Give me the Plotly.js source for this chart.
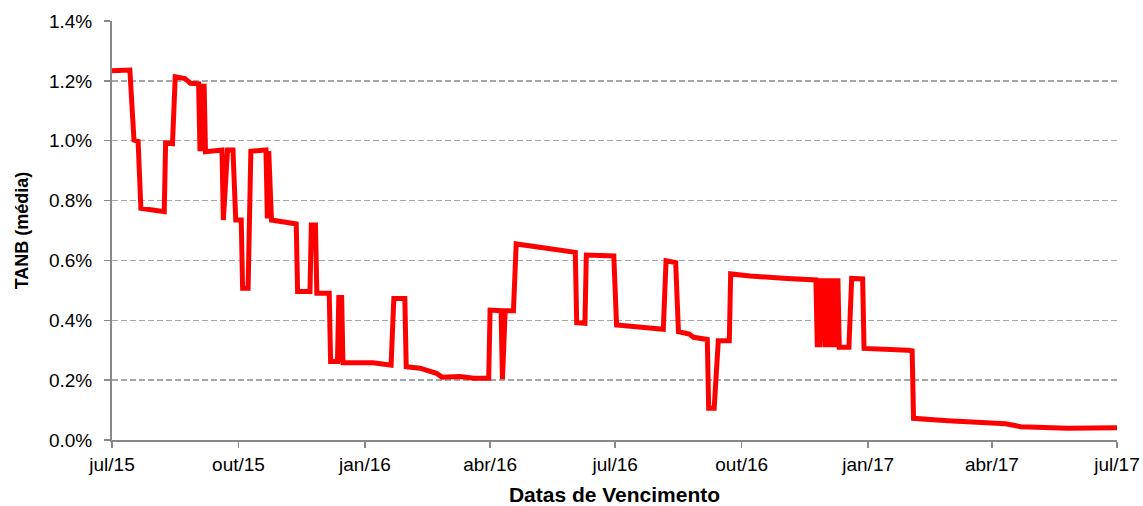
<!DOCTYPE html>
<html>
<head>
<meta charset="utf-8">
<script src="https://cdn.plot.ly/plotly-3.0.1.min.js"></script>
<style>
  html, body { margin: 0; padding: 0; background: #fff; }
  #chart { width: 1143px; height: 506px; }
</style>
</head>
<body>
<div id="chart"></div>
<script>
// Maturity dates (Datas de Vencimento)
const dates = [
  '2015-07-01','2015-07-14','2015-07-17','2015-07-20','2015-07-22','2015-08-06','2015-08-08','2015-08-09',
  '2015-08-14','2015-08-16','2015-08-23','2015-08-27','2015-09-02','2015-09-03','2015-09-04','2015-09-05',
  '2015-09-06','2015-09-07','2015-09-19','2015-09-20','2015-09-23','2015-09-27','2015-09-29','2015-10-03',
  '2015-10-04','2015-10-08','2015-10-09','2015-10-10','2015-10-21','2015-10-22','2015-10-23','2015-10-25',
  '2015-11-09','2015-11-12','2015-11-13','2015-11-22','2015-11-23','2015-11-26','2015-11-27','2015-12-06',
  '2015-12-07','2015-12-12','2015-12-13','2015-12-14','2015-12-15','2015-12-16','2015-12-31','2016-01-07',
  '2016-01-20','2016-01-22','2016-01-30','2016-01-31','2016-02-10','2016-02-22','2016-02-26','2016-03-10',
  '2016-03-20','2016-03-31','2016-04-01','2016-04-09','2016-04-10','2016-04-12','2016-04-18','2016-04-20',
  '2016-05-07','2016-05-26','2016-06-02','2016-06-03','2016-06-09','2016-06-10','2016-06-30','2016-07-02',
  '2016-07-23','2016-08-05','2016-08-07','2016-08-14','2016-08-16','2016-08-24','2016-08-27','2016-09-06',
  '2016-09-07','2016-09-11','2016-09-14','2016-09-22','2016-09-23','2016-10-07','2016-11-03','2016-11-24',
  '2016-11-25','2016-11-26','2016-11-27','2016-11-29','2016-12-01','2016-12-02','2016-12-03','2016-12-05',
  '2016-12-06','2016-12-08','2016-12-09','2016-12-10','2016-12-11','2016-12-18','2016-12-20','2016-12-28',
  '2016-12-29','2017-01-09','2017-01-30','2017-02-02','2017-02-03','2017-02-28','2017-03-29','2017-04-11',
  '2017-04-22','2017-05-26','2017-07-01'
];

// TANB (média), in percent
const tanb = [
  1.234, 1.236, 1.002, 0.998, 0.774, 0.765, 0.763, 0.993,
  0.990, 1.214, 1.208, 1.192, 1.190, 0.965, 1.190, 0.965,
  1.190, 0.963, 0.969, 0.735, 0.969, 0.969, 0.735, 0.735,
  0.507, 0.507, 0.735, 0.965, 0.969, 0.740, 0.965, 0.735,
  0.724, 0.722, 0.496, 0.496, 0.718, 0.718, 0.490, 0.490,
  0.262, 0.262, 0.484, 0.260, 0.484, 0.258, 0.258, 0.258,
  0.250, 0.473, 0.473, 0.245, 0.240, 0.223, 0.210, 0.212,
  0.206, 0.206, 0.434, 0.432, 0.203, 0.432, 0.432, 0.655,
  0.644, 0.629, 0.627, 0.392, 0.390, 0.618, 0.615, 0.384,
  0.377, 0.370, 0.599, 0.593, 0.362, 0.354, 0.343, 0.336,
  0.106, 0.106, 0.332, 0.332, 0.555, 0.548, 0.540, 0.535,
  0.310, 0.540, 0.310, 0.540, 0.310, 0.540, 0.310, 0.540,
  0.310, 0.540, 0.310, 0.540, 0.310, 0.310, 0.540, 0.538,
  0.306, 0.305, 0.300, 0.298, 0.0725, 0.0645, 0.058, 0.054,
  0.0445, 0.039, 0.041
];

const xTickVals = ['2015-07-01','2015-10-01','2016-01-01','2016-04-01','2016-07-01',
                   '2016-10-01','2017-01-01','2017-04-01','2017-07-01'];
const xTickText = ['jul/15','out/15','jan/16','abr/16','jul/16','out/16','jan/17','abr/17','jul/17'];

const xTitle = 'Datas de Vencimento';
const yTitle = 'TANB (média)';

const FONT = '"Liberation Sans", Arial, Helvetica, sans-serif';

const trace = {
  x: dates,
  y: tanb,
  type: 'scatter',
  mode: 'lines',
  line: { color: '#ff0000', width: 5 },
  hoverinfo: 'x+y'
};

const layout = {
  width: 1143,
  height: 506,
  margin: { l: 112, r: 26, t: 21, b: 66, pad: 0 },
  paper_bgcolor: '#ffffff',
  plot_bgcolor: '#ffffff',
  showlegend: false,
  font: { family: FONT, color: '#000000', size: 19 },
  xaxis: {
    type: 'date',
    range: ['2015-07-01', '2017-07-01'],
    tickvals: xTickVals,
    ticktext: xTickText,
    showgrid: false,
    zeroline: false,
    showline: true,
    linecolor: '#888888',
    linewidth: 2,
    ticks: 'outside',
    ticklen: 6,
    tickwidth: 1.5,
    tickcolor: '#888888',
    tickfont: { family: FONT, size: 19, color: '#000000' },
    title: { text: xTitle, font: { family: FONT, size: 21, color: '#000000', weight: 'bold' }, standoff: 19 }
  },
  yaxis: {
    range: [0, 1.4],
    dtick: 0.2,
    tick0: 0,
    tickformat: '.1f',
    ticksuffix: '%',
    showgrid: true,
    gridcolor: '#a6a6a6',
    gridwidth: 1.3,
    griddash: '6px,3px',
    zeroline: false,
    showline: true,
    linecolor: '#888888',
    linewidth: 2,
    ticks: 'outside',
    ticklen: 6,
    tickwidth: 1.5,
    tickcolor: '#888888',
    ticklabelstandoff: 8,
    tickfont: { family: FONT, size: 19, color: '#000000' },
    title: { text: yTitle, font: { family: FONT, size: 18, color: '#000000', weight: 'bold' }, standoff: 16 }
  }
};

Plotly.newPlot('chart', [trace], layout, { displayModeBar: false, staticPlot: true });
</script>
</body>
</html>
